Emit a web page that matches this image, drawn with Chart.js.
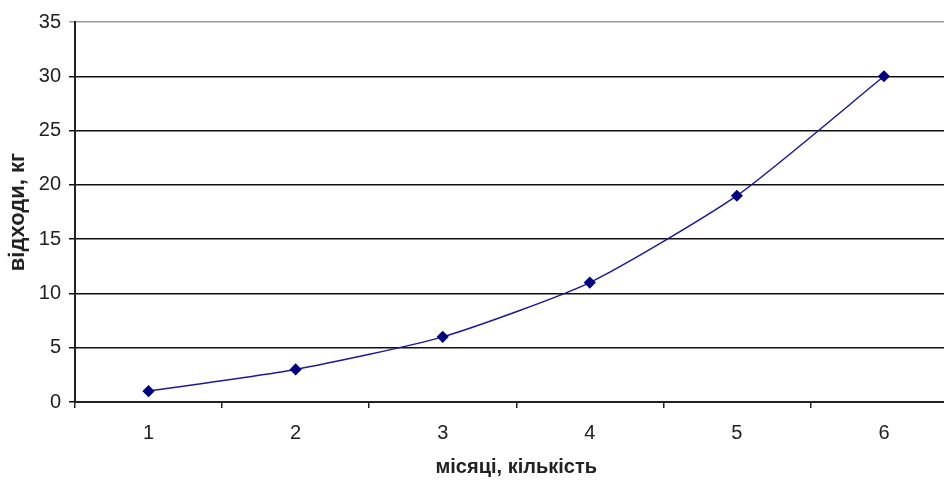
<!DOCTYPE html>
<html><head><meta charset="utf-8">
<script src="https://cdn.jsdelivr.net/npm/chart.js@4/dist/chart.umd.min.js"></script>
<style>html,body{margin:0;padding:0;overflow:hidden;background:#fff}#wrap{width:964px;height:480px}</style>
</head><body>
<div id="wrap"><canvas id="c" width="964" height="480"></canvas></div>
<script>
const categories = ['1','2','3','4','5','6'];
const wasteKg = [1, 3, 6, 11, 19, 30];
const yTitle = 'відходи, кг';
const xTitle = 'місяці, кількість';
const FONT = "'Liberation Sans', Arial, sans-serif";

new Chart(document.getElementById('c'), {
  type: 'line',
  data: {
    labels: categories,
    datasets: [{
      data: wasteKg,
      borderColor: '#1a1a9a',
      borderWidth: 1.5,
      backgroundColor: '#000080',
      pointStyle: 'rectRot',
      pointRadius: 5,
      pointBorderColor: '#000080',
      pointBackgroundColor: '#000080',
      tension: 0.2,
      fill: false
    }]
  },
  options: {
    responsive: false,
    animation: false,
    devicePixelRatio: 1,
    layout: { padding: { top: 22, right: 2, left: 0, bottom: 0 } },
    plugins: { legend: { display: false }, tooltip: { enabled: false } },
    scales: {
      x: {
        offset: true,
        grid: { offset: true, drawOnChartArea: false, drawTicks: true, tickLength: 6, color: '#222', lineWidth: 1.5 },
        border: { color: '#222', width: 2 },
        ticks: { color: '#222', font: { family: FONT, size: 20 }, padding: 13, maxRotation: 0 },
        title: { display: true, text: xTitle, color: '#222', font: { family: FONT, size: 20, weight: 'bold' }, padding: { top: 4, bottom: 1 } },
        afterFit: s => { s.height = 78; }
      },
      y: {
        min: 0, max: 35,
        ticks: { stepSize: 5, color: '#222', font: { family: FONT, size: 20 }, padding: 8 },
        grid: {
          color: ctx => (ctx.tick && ctx.tick.value === 35) ? '#999' : '#111',
          lineWidth: 1.5, tickLength: 6, drawTicks: true
        },
        border: { color: '#222', width: 2 },
        title: { display: true, text: yTitle, color: '#222', font: { family: FONT, size: 22, weight: 'bold' }, padding: { top: 5, bottom: 2 } },
        afterFit: s => { s.width = 75; }
      }
    }
  }
});
</script>
</body></html>
